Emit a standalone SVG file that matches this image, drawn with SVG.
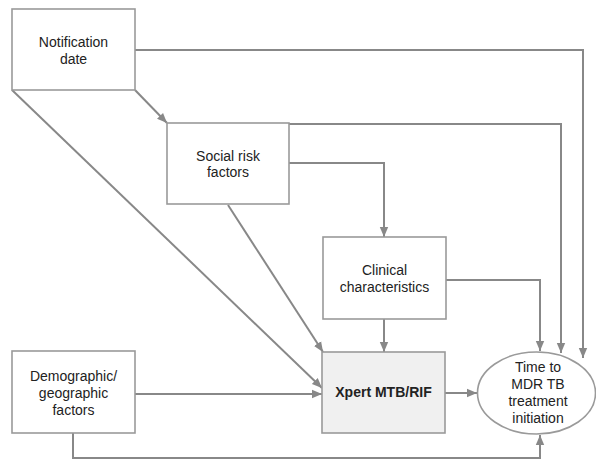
<svg xmlns="http://www.w3.org/2000/svg" width="596" height="460" viewBox="0 0 596 460">
<style>
.box{fill:#ffffff;stroke:#9a9a9a;stroke-width:1.6}
.hl{fill:#f0f0f0}
.t{font-family:"Liberation Sans",Arial,sans-serif;font-size:14px;fill:#222;text-anchor:middle}
.b{font-weight:bold}
.c{fill:none;stroke:#888;stroke-width:2;marker-end:url(#ah)}
</style>
<defs>
<marker id="ah" markerUnits="userSpaceOnUse" markerWidth="10" markerHeight="10" viewBox="0 0 10 10" refX="10" refY="5" orient="auto">
<path d="M0,0.8 L10,5 L0,9.2 Z" fill="#888"/>
</marker>
</defs>
<rect width="596" height="460" fill="#ffffff"/>
<g id="connectors">
<path class="c" d="M135,50 H583 V358"/>
<path class="c" d="M289,124 H561 V353"/>
<path class="c" d="M289,163 H384 V237"/>
<path class="c" d="M446,280 H540 V351"/>
<path class="c" d="M384,319 V352"/>
<path class="c" d="M228,205 L323,352"/>
<path class="c" d="M12,90 L322,388"/>
<path class="c" d="M135,90 L167,123"/>
<path class="c" d="M135,394 H322"/>
<path class="c" d="M445,393 H477"/>
<path class="c" d="M73,433 V458 H540 V435"/>
</g>
<g id="notification">
<rect class="box" x="12" y="9" width="123" height="81"/>
<text class="t" x="73.5" y="47">Notification</text>
<text class="t" x="73.5" y="64">date</text>
</g>
<g id="social">
<rect class="box" x="167" y="123" width="122" height="81"/>
<text class="t" x="228" y="161">Social risk</text>
<text class="t" x="228" y="177">factors</text>
</g>
<g id="clinical">
<rect class="box" x="323" y="237" width="123" height="82"/>
<text class="t" x="384.5" y="275">Clinical</text>
<text class="t" x="384.5" y="292">characteristics</text>
</g>
<g id="demographic">
<rect class="box" x="12" y="351" width="123" height="82"/>
<text class="t" x="73.5" y="381">Demographic/</text>
<text class="t" x="73.5" y="398">geographic</text>
<text class="t" x="73.5" y="415">factors</text>
</g>
<g id="xpert">
<rect class="box hl" x="322" y="352" width="123" height="81"/>
<text class="t b" x="383.5" y="397">Xpert MTB/RIF</text>
</g>
<g id="outcome">
<ellipse class="box" cx="536.5" cy="393" rx="59" ry="41"/>
<text class="t" x="538" y="372">Time to</text>
<text class="t" x="538" y="389">MDR TB</text>
<text class="t" x="538" y="406">treatment</text>
<text class="t" x="538" y="423">initiation</text>
</g>
</svg>
